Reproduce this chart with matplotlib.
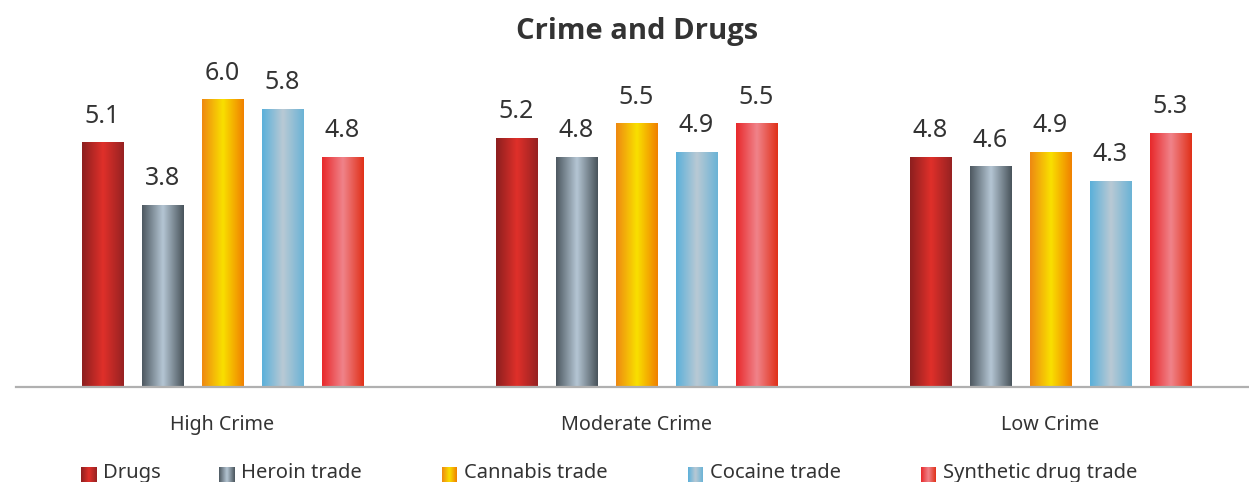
import numpy as np
import matplotlib
matplotlib.use("Agg")
import matplotlib.pyplot as plt
from matplotlib.colors import LinearSegmentedColormap

categories = ["High Crime", "Moderate Crime", "Low Crime"]
series_names = ["Drugs", "Heroin trade", "Cannabis trade", "Cocaine trade", "Synthetic drug trade"]
drugs = [5.1, 5.2, 4.8]
heroin = [3.8, 4.8, 4.6]
cannabis = [6.0, 5.5, 4.9]
cocaine = [5.8, 4.9, 4.3]
synthetic = [4.8, 5.5, 5.3]
series_values = [drugs, heroin, cannabis, cocaine, synthetic]

# left edge, centre, right edge of each bar's horizontal shading
gradients = [
    ("#8c1f1f", "#e0302a", "#962222"),
    ("#4d5860", "#b5c6d4", "#48535a"),
    ("#ee8812", "#f9e000", "#f08000"),
    ("#5ab0da", "#b9c9d4", "#6ab3d6"),
    ("#e8282a", "#f0838a", "#e03018"),
]
cmaps = [LinearSegmentedColormap.from_list(f"g{i}", list(c)) for i, c in enumerate(gradients)]
grad = np.linspace(0, 1, 256).reshape(1, -1)

plt.rcParams["font.family"] = ["Noto Sans", "DejaVu Sans"]
text_color = "#333333"

W, H = 1249, 482
fig = plt.figure(figsize=(W / 100, H / 100), dpi=100)
fig.patch.set_facecolor("white")

# axes: group spacing 414 px, baseline at y=387 px
ax = fig.add_axes([15.5 / W, 95 / H, 1242 / W, 335 / H])
ax.set_xlim(-0.5, 2.5)
ax.set_ylim(0, 7)

x = np.arange(len(categories))
offset = 0.145
width = 0.101

for i, (vals, cmap) in enumerate(zip(series_values, cmaps)):
    pos = x + (i - 2) * offset
    bars = ax.bar(pos, vals, width=width, color="none", edgecolor="none", zorder=2)
    for b, v in zip(bars, vals):
        bx, bw, bh = b.get_x(), b.get_width(), b.get_height()
        ax.imshow(grad, cmap=cmap, aspect="auto", extent=[bx, bx + bw, 0, bh],
                  interpolation="bicubic", zorder=2)
        ax.annotate(f"{v:.1f}", xy=(bx + bw / 2, bh), xytext=(0, 14.5),
                    textcoords="offset points", ha="center", va="baseline",
                    fontsize=18, color=text_color)

ax.set_xlim(-0.5, 2.5)
ax.set_ylim(0, 7)

for s in ["top", "left", "right"]:
    ax.spines[s].set_visible(False)
ax.spines["bottom"].set_color("#b0b0b0")
ax.spines["bottom"].set_linewidth(1.6)
ax.spines["bottom"].set_zorder(3)
ax.set_yticks([])
ax.set_xticks(x)
ax.set_xticklabels(categories, fontsize=14.2, color=text_color)
ax.tick_params(axis="x", length=0, pad=20)
ax.set_facecolor("none")

fig.text(637 / W, 1 - 31 / H, "Crime and Drugs", ha="center", va="center",
         fontsize=21, fontweight="bold", family=["Open Sans", "DejaVu Sans"],
         color=text_color)

# legend row along the bottom edge
swatch_x = [81, 219, 442, 688, 921]
for name, cmap, sx in zip(series_names, cmaps, swatch_x):
    sax = fig.add_axes([sx / W, (H - 485) / H, 15 / W, 18 / H])
    sax.imshow(grad, cmap=cmap, aspect="auto", interpolation="bicubic")
    sax.set_axis_off()
    fig.text((sx + 22) / W, 1 - 478 / H, name, ha="left", va="baseline",
             fontsize=14.5, color=text_color)

fig.savefig("out.png", dpi=100, facecolor="white")
